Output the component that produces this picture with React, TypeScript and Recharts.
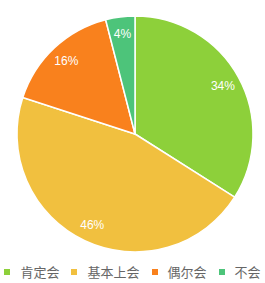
import React from 'react';
import { PieChart, Pie, Cell, Legend } from 'recharts';

const categories = ['肯定会', '基本上会', '偶尔会', '不会'];
const values = [34, 46, 16, 4];
const COLORS = ['#8dd03a', '#f1c03f', '#f9811d', '#4dc47a'];

const data = categories.map((name, i) => ({ name, value: values[i] }));

const RADIAN = Math.PI / 180;

const renderLabel = (props: any) => {
  const { cx, cy, midAngle, outerRadius, percent } = props;
  const r = outerRadius * 0.85;
  const x = cx + r * Math.cos(-midAngle * RADIAN);
  const y = cy + r * Math.sin(-midAngle * RADIAN);
  return (
    <text
      x={x}
      y={y}
      fill="#fff"
      textAnchor="middle"
      dominantBaseline="central"
      fontSize={12}
      fontFamily="Liberation Sans, Arial, sans-serif"
    >
      {`${Math.round(percent * 100)}%`}
    </text>
  );
};

// legend built from the data so order matches the slices
const renderLegend = () => (
  <div style={{ display: 'flex', justifyContent: 'center', alignItems: 'center' }}>
    {categories.map((name, index) => (
      <div
        key={`item-${index}`}
        style={{
          display: 'flex',
          alignItems: 'center',
          marginRight: index < categories.length - 1 ? 12 : 0,
        }}
      >
        <span
          style={{ width: 6, height: 6, background: COLORS[index], marginRight: 10, display: 'inline-block' }}
        />
        <span style={{ fontSize: 13, color: '#666', fontFamily: 'Noto Sans CJK SC, sans-serif' }}>
          {name}
        </span>
      </div>
    ))}
  </div>
);

export default function App() {
  return (
    <div style={{ position: 'absolute', left: 0, top: 0, background: '#fff' }}>
      <PieChart width={265} height={283} margin={{ top: 0, right: 0, bottom: 0, left: 0 }}>
        <Pie
          data={data}
          dataKey="value"
          nameKey="name"
          cx={135}
          cy={134}
          outerRadius={118}
          startAngle={90}
          endAngle={-270}
          stroke="#fff"
          strokeWidth={1.5}
          label={renderLabel}
          labelLine={false}
          isAnimationActive={false}
        >
          {data.map((entry, index) => (
            <Cell key={`cell-${index}`} fill={COLORS[index % COLORS.length]} />
          ))}
        </Pie>
        <Legend
          content={renderLegend}
          verticalAlign="bottom"
          wrapperStyle={{ bottom: 2, left: 0, width: 265 }}
        />
      </PieChart>
    </div>
  );
}
